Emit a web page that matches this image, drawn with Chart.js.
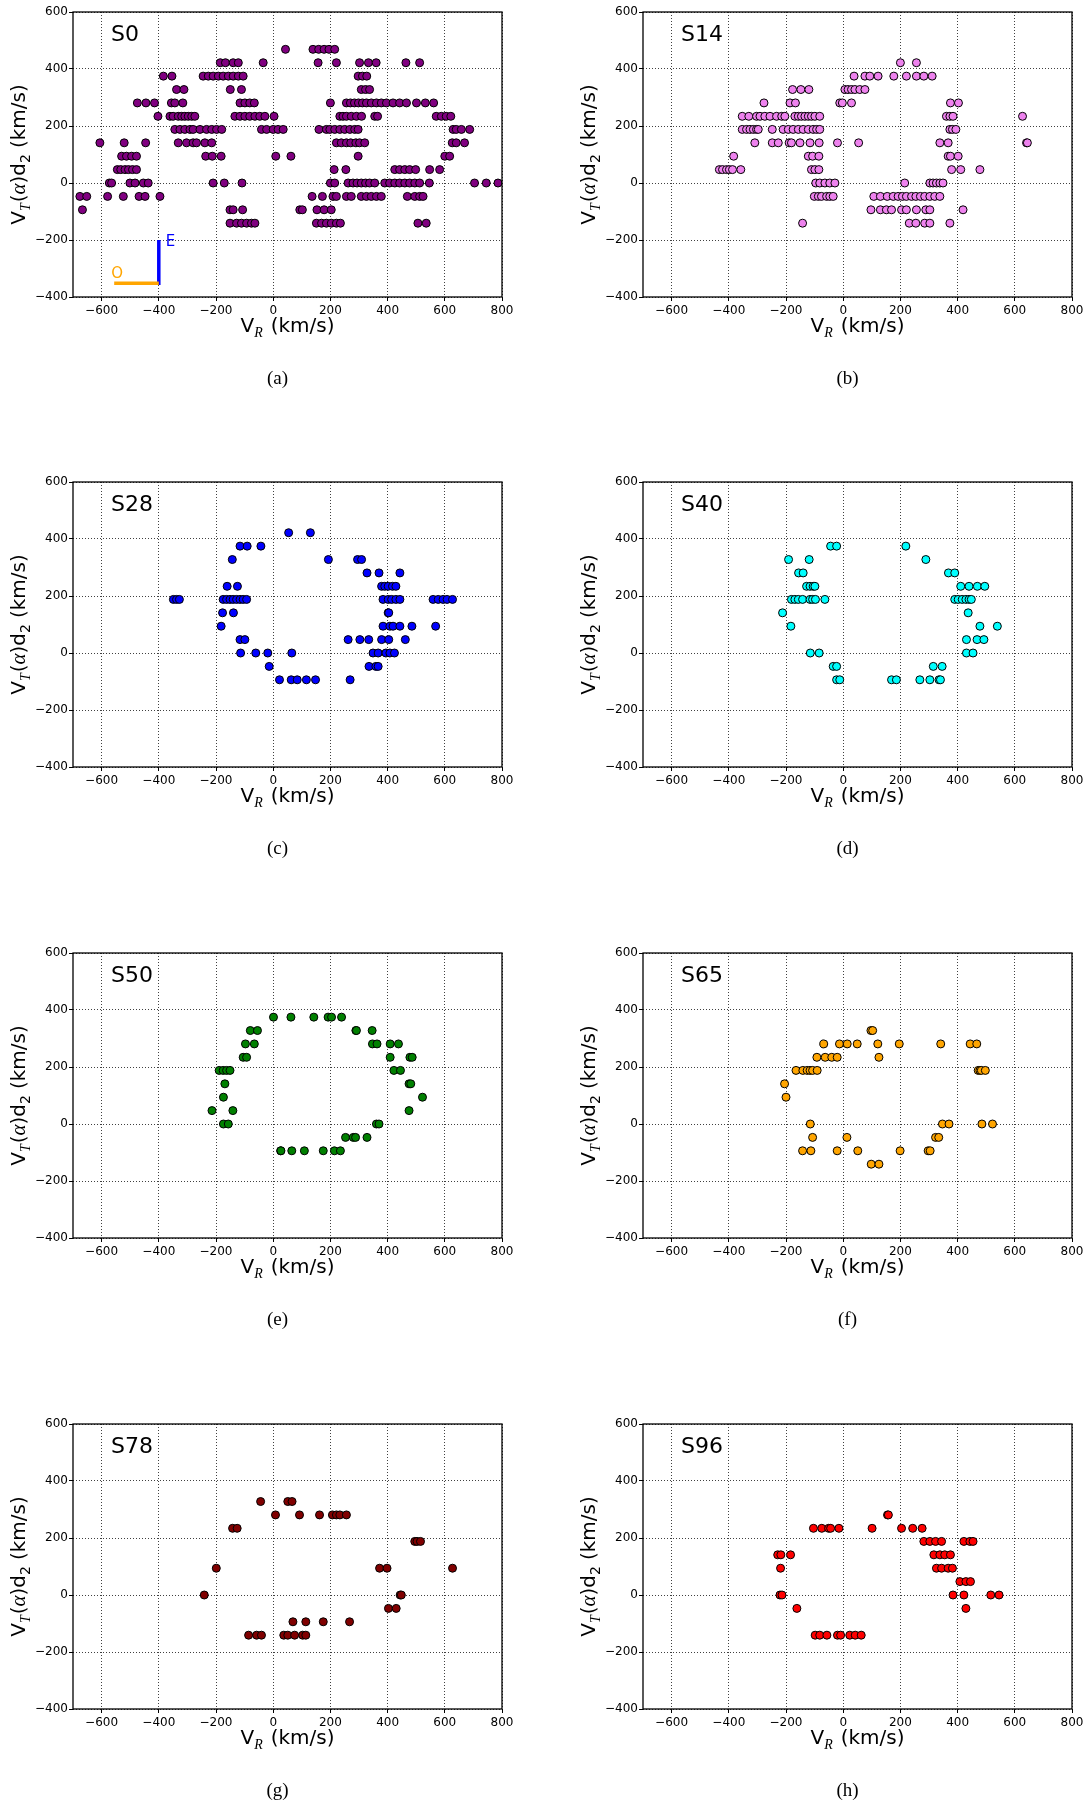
<!DOCTYPE html>
<html>
<head>
<meta charset="UTF-8">
<title>VR - VT scatter panels</title>
<script src="https://cdn.jsdelivr.net/npm/chart.js"></script>
<style>
  html, body { margin: 0; padding: 0; background: #fff; }
  #fig { position: relative; width: 1092px; height: 1802px; overflow: hidden; }
  #fig canvas { position: absolute; }
</style>
</head>
<body>
<div id="fig"></div>
<script>
// tick values of every panel
const xTicks = [-600, -400, -200, 0, 200, 400, 600, 800];
const yTicks = [-400, -200, 0, 200, 400, 600];

// S0 annotation lines (E and O directions)
const eLine = [[-400, -200], [-400, -358]];
const oLine = [[-556, -352], [-400, -352]];

// [VR, VT(alpha)d2]
const s0 = [
  [43,469],[139,469],[159,469],[178,469],[195,469],[215,469],
  [-185,422],[-167,422],[-140,422],[-122,422],[-35,422],[157,422],[221,422],[302,422],[333,422],[360,422],[464,422],[512,422],
  [-384,375],[-354,375],[-245,375],[-227,375],[-210,375],[-192,375],[-175,375],[-157,375],[-140,375],[-122,375],[-105,375],[297,375],[312,375],[327,375],
  [-338,328],[-312,328],[-150,328],[-111,328],[308,328],[323,328],[337,328],
  [-475,281],[-445,281],[-415,281],[-356,281],[-344,281],[-316,281],[-116,281],[-99,281],[-82,281],[-66,281],[200,281],[256,281],[270,281],[284,281],[298,281],[312,281],[326,281],[343,281],[361,281],[378,281],[396,281],[419,281],[442,281],[466,281],[501,281],[532,281],[561,281],
  [-403,234],[-361,234],[-350,234],[-332,234],[-320,234],[-309,234],[-297,234],[-285,234],[-274,234],[-134,234],[-116,234],[-99,234],[-82,234],[-64,234],[-47,234],[-29,234],[3,234],[233,234],[244,234],[256,234],[273,234],[291,234],[309,234],[355,234],[365,234],[570,234],[588,234],[605,234],[621,234],
  [-344,188],[-326,188],[-309,188],[-291,188],[-280,188],[-256,188],[-233,188],[-215,188],[-198,188],[-180,188],[-41,188],[-23,188],[0,188],[17,188],[35,188],[160,188],[186,188],[198,188],[215,188],[233,188],[250,188],[268,188],[285,188],[297,188],[629,188],[640,188],[658,188],[687,188],
  [-606,141],[-521,141],[-446,141],[-332,141],[-303,141],[-280,141],[-268,141],[-239,141],[-215,141],[221,141],[238,141],[256,141],[271,141],[289,141],[302,141],[320,141],[626,141],[640,141],[669,141],
  [-530,94],[-513,94],[-495,94],[-478,94],[-236,94],[-213,94],[-182,94],[9,94],[62,94],[297,94],[600,94],[617,94],
  [-545,47],[-533,47],[-518,47],[-506,47],[-492,47],[-478,47],[213,47],[254,47],[425,47],[442,47],[460,47],[477,47],[498,47],[547,47],[582,47],
  [-573,0],[-565,0],[-501,0],[-483,0],[-454,0],[-437,0],[-210,0],[-171,0],[-109,0],[200,0],[215,0],[262,0],[279,0],[293,0],[308,0],[323,0],[337,0],[355,0],[390,0],[407,0],[425,0],[442,0],[460,0],[477,0],[495,0],[512,0],[546,0],[704,0],[745,0],[786,0],
  [-676,-47],[-652,-47],[-579,-47],[-524,-47],[-469,-47],[-448,-47],[-396,-47],[136,-47],[172,-47],[209,-47],[221,-47],[256,-47],[273,-47],[308,-47],[326,-47],[343,-47],[361,-47],[378,-47],[469,-47],[495,-47],[512,-47],[524,-47],
  [-667,-94],[-151,-94],[-140,-94],[-107,-94],[93,-94],[102,-94],[153,-94],[178,-94],[203,-94],
  [-151,-141],[-128,-141],[-111,-141],[-93,-141],[-76,-141],[-64,-141],[151,-141],[169,-141],[186,-141],[203,-141],[221,-141],[235,-141],[506,-141],[535,-141]
];
const s14 = [
  [200,422],[256,422],
  [38,375],[76,375],[93,375],[122,375],[177,375],[221,375],[256,375],[282,375],[311,375],
  [-177,328],[-148,328],[-120,328],[6,328],[17,328],[29,328],[41,328],[58,328],[76,328],
  [-277,281],[-186,281],[-167,281],[-12,281],[-3,281],[29,281],[375,281],[403,281],
  [-353,234],[-330,234],[-303,234],[-291,234],[-274,234],[-256,234],[-233,234],[-215,234],[-204,234],[-169,234],[-157,234],[-146,234],[-134,234],[-122,234],[-111,234],[-99,234],[-82,234],[361,234],[373,234],[384,234],[627,234],
  [-353,188],[-338,188],[-326,188],[-314,188],[-303,188],[-297,188],[-248,188],[-210,188],[-192,188],[-175,188],[-157,188],[-140,188],[-122,188],[-105,188],[-93,188],[-82,188],[373,188],[382,188],[394,188],
  [-309,141],[-248,141],[-227,141],[-189,141],[-181,141],[-151,141],[-116,141],[-84,141],[-20,141],[54,141],[338,141],[367,141],[641,141],[644,141],
  [-383,94],[-122,94],[-107,94],[-85,94],[367,94],[375,94],[402,94],
  [-433,47],[-422,47],[-408,47],[-398,47],[-387,47],[-358,47],[-111,47],[-99,47],[-85,47],[379,47],[411,47],[478,47],
  [-96,0],[-82,0],[-64,0],[-47,0],[-29,0],[215,0],[303,0],[314,0],[326,0],[338,0],[349,0],
  [-101,-47],[-87,-47],[-76,-47],[-58,-47],[-47,-47],[-35,-47],[107,-47],[130,-47],[154,-47],[175,-47],[192,-47],[207,-47],[221,-47],[239,-47],[254,-47],[270,-47],[285,-47],[303,-47],[320,-47],[338,-47],
  [97,-94],[130,-94],[151,-94],[169,-94],[204,-94],[221,-94],[256,-94],[289,-94],[303,-94],[419,-94],
  [-142,-141],[231,-141],[254,-141],[285,-141],[303,-141],[373,-141]
];
const s28 = [
  [54,422],[130,422],
  [-116,375],[-91,375],[-43,375],
  [-143,328],[193,328],[295,328],[309,328],
  [328,281],[370,281],[443,281],
  [-161,234],[-125,234],[379,234],[390,234],[402,234],[417,234],[429,234],
  [-349,188],[-338,188],[-328,188],[-175,188],[-163,188],[-151,188],[-140,188],[-128,188],[-116,188],[-105,188],[-93,188],[384,188],[402,188],[414,188],[429,188],[443,188],[559,188],[577,188],[594,188],[608,188],[627,188],
  [-177,141],[-139,141],[402,141],[404,141],
  [-182,94],[384,94],[408,94],[419,94],[443,94],[485,94],[568,94],
  [-116,47],[-99,47],[262,47],[303,47],[334,47],[379,47],[404,47],[462,47],
  [-114,0],[-61,0],[-19,0],[65,0],[349,0],[367,0],[394,0],[408,0],[424,0],
  [-14,-47],[335,-47],[359,-47],[367,-47],
  [22,-94],[63,-94],[84,-94],[116,-94],[148,-94],[269,-94]
];
const s40 = [
  [-44,375],[-23,375],[219,375],
  [-191,328],[-119,328],[289,328],
  [-156,281],[-140,281],[368,281],[390,281],
  [-128,234],[-116,234],[-105,234],[-99,234],[411,234],[440,234],[469,234],[495,234],
  [-181,188],[-169,188],[-157,188],[-142,188],[-116,188],[-107,188],[-97,188],[-64,188],[390,188],[402,188],[416,188],[429,188],[440,188],[448,188],
  [-212,141],[437,141],
  [-183,94],[478,94],[539,94],
  [431,47],[468,47],[492,47],
  [-115,0],[-84,0],[431,0],[454,0],
  [-35,-47],[-23,-47],[315,-47],[346,-47],
  [-23,-94],[-12,-94],[169,-94],[186,-94],[268,-94],[303,-94],[335,-94],[340,-94]
];
const s50 = [
  [1,375],[62,375],[142,375],[192,375],[204,375],[239,375],
  [-80,328],[-55,328],[289,328],[291,328],[346,328],
  [-97,281],[-66,281],[347,281],[363,281],[409,281],[438,281],
  [-105,234],[-93,234],[409,234],[478,234],[486,234],
  [-189,188],[-175,188],[-163,188],[-151,188],[422,188],[445,188],
  [-169,141],[475,141],[481,141],
  [-174,94],[522,94],
  [-214,47],[-141,47],[475,47],
  [-174,0],[-157,0],[361,0],[370,0],
  [253,-47],[280,-47],[288,-47],[328,-47],
  [26,-94],[27,-94],[65,-94],[109,-94],[175,-94],[214,-94],[235,-94]
];
const s65 = [
  [97,328],[103,328],
  [-68,281],[-13,281],[14,281],[49,281],[121,281],[196,281],[341,281],[444,281],[467,281],
  [-92,234],[-63,234],[-40,234],[-21,234],[125,234],
  [-165,188],[-141,188],[-126,188],[-116,188],[-107,188],[-91,188],[472,188],[478,188],[483,188],[497,188],
  [-205,141],
  [-200,94],
  [-115,0],[347,0],[370,0],[485,0],[522,0],
  [-107,-47],[13,-47],[323,-47],[334,-47],
  [-142,-94],[-113,-94],[-21,-94],[51,-94],[199,-94],[297,-94],[304,-94],
  [98,-141],[125,-141]
];
const s78 = [
  [-44,328],[51,328],[66,328],
  [8,281],[92,281],[162,281],[207,281],[221,281],[233,281],[256,281],
  [-142,234],[-126,234],
  [495,188],[503,188],[515,188],
  [-199,94],[372,94],[398,94],[627,94],
  [-241,0],[444,0],[448,0],
  [403,-47],[430,-47],
  [69,-94],[114,-94],[175,-94],[267,-94],
  [-86,-141],[-58,-141],[-41,-141],[37,-141],[51,-141],[75,-141],[103,-141],[114,-141]
];
const s96 = [
  [155,281],[158,281],
  [-104,234],[-75,234],[-51,234],[-44,234],[-15,234],[101,234],[204,234],[243,234],[276,234],
  [282,188],[303,188],[323,188],[344,188],[422,188],[443,188],[454,188],
  [-229,141],[-218,141],[-184,141],[317,141],[338,141],[355,141],[375,141],
  [-219,94],[326,94],[344,94],[367,94],[382,94],
  [408,47],[429,47],[445,47],
  [-221,0],[-214,0],[384,0],[422,0],[516,0],[545,0],
  [-162,-47],[429,-47],
  [-98,-141],[-82,-141],[-57,-141],[-20,-141],[-9,-141],[23,-141],[42,-141],[63,-141]
];

const panels = [
  { pts: s0,  color: '#800080', label: 'S0',  caption: '(a)' },
  { pts: s14, color: '#ee82ee', label: 'S14', caption: '(b)' },
  { pts: s28, color: '#0000ff', label: 'S28', caption: '(c)' },
  { pts: s40, color: '#00ffff', label: 'S40', caption: '(d)' },
  { pts: s50, color: '#008000', label: 'S50', caption: '(e)' },
  { pts: s65, color: '#ffa500', label: 'S65', caption: '(f)' },
  { pts: s78, color: '#800000', label: 'S78', caption: '(g)' },
  { pts: s96, color: '#ff0000', label: 'S96', caption: '(h)' }
];

Chart.defaults.font.family = 'DejaVu Sans';
Chart.defaults.color = '#000';

const W = 522, H = 390;
const rowTops = [0, 470, 941, 1412];
const colLefts = [0, 570];

function drawPieces(ctx, pieces, x0, y0) {
  let w = 0;
  pieces.forEach(p => { ctx.font = p.f; p.w = ctx.measureText(p.t).width + (p.gap || 0); w += p.w; });
  let x = x0 - w / 2;
  pieces.forEach(p => {
    ctx.font = p.f;
    ctx.fillText(p.t, x, y0 + (p.dy || 0));
    x += p.w;
  });
}

const frameText = {
  id: 'frameText',
  afterDraw(chart, args, opts) {
    const ctx = chart.ctx, a = chart.chartArea;
    ctx.save();
    ctx.strokeStyle = '#000';
    ctx.lineWidth = 1.3;
    ctx.strokeRect(a.left, a.top, a.right - a.left, a.bottom - a.top);
    ctx.fillStyle = '#000';
    ctx.textBaseline = 'alphabetic';
    ctx.textAlign = 'left';
    ctx.font = '22px DejaVu Sans';
    ctx.fillText(opts.label, a.left + 38, a.top + 29);
    const cx = (a.left + a.right) / 2;
    // x axis title
    drawPieces(ctx, [
      { t: 'V', f: '20px DejaVu Sans' },
      { t: 'R', f: 'italic 14px Liberation Serif', dy: 5, gap: 8 },
      { t: '(km/s)', f: '20px DejaVu Sans' }
    ], cx, a.bottom + 35);
    // y axis title
    ctx.save();
    ctx.translate(a.left - 48, (a.top + a.bottom) / 2);
    ctx.rotate(-Math.PI / 2);
    drawPieces(ctx, [
      { t: 'V', f: '20px DejaVu Sans' },
      { t: 'T', f: 'italic 14px Liberation Serif', dy: 5, gap: 1 },
      { t: '(', f: '20px DejaVu Sans' },
      { t: 'α', f: 'italic 21px Liberation Serif' },
      { t: ')d', f: '20px DejaVu Sans' },
      { t: '2', f: '14px DejaVu Sans', dy: 5, gap: 6 },
      { t: '(km/s)', f: '20px DejaVu Sans' }
    ], 0, 0);
    ctx.restore();
    // caption
    ctx.textAlign = 'center';
    ctx.font = '19px Liberation Serif';
    ctx.fillText(opts.caption, cx - 10, 384);
    // E / O labels of the first panel
    if (opts.arrows) {
      const xs = chart.scales.x, ys = chart.scales.y;
      ctx.textAlign = 'left';
      ctx.font = '15px DejaVu Sans';
      ctx.fillStyle = '#0000ff';
      ctx.fillText('E', xs.getPixelForValue(eLine[0][0]) + 7, ys.getPixelForValue(eLine[0][1]) + 6);
      ctx.fillStyle = '#ffa500';
      ctx.fillText('O', xs.getPixelForValue(oLine[0][0]) - 3, ys.getPixelForValue(oLine[0][1]) - 5);
    }
    ctx.restore();
  }
};

const fmt = v => String(v).replace('-', '\u2212');

panels.forEach((p, i) => {
  const cv = document.createElement('canvas');
  cv.width = W; cv.height = H;
  cv.style.left = colLefts[i % 2] + 'px';
  cv.style.top = rowTops[Math.floor(i / 2)] + 'px';
  cv.style.width = W + 'px'; cv.style.height = H + 'px';
  document.getElementById('fig').appendChild(cv);

  const datasets = [{
    data: p.pts.map(([x, y]) => ({ x, y })),
    backgroundColor: p.color,
    borderColor: '#000',
    borderWidth: 1,
    pointRadius: 4,
    pointHoverRadius: 4
  }];
  if (i === 0) {
    [[oLine, '#ffa500'], [eLine, '#0000ff']].forEach(([ln, c]) => {
      datasets.push({
        data: ln.map(([x, y]) => ({ x, y })),
        showLine: true, borderColor: c, borderWidth: 3.5,
        pointRadius: 0, borderCapStyle: 'butt'
      });
    });
  }

  const gridOpts = { color: 'rgba(0,0,0,0.75)', lineWidth: 1, drawTicks: true, tickLength: 4,
                     tickColor: '#000', tickBorderDash: [], tickWidth: 1 };

  new Chart(cv, {
    type: 'scatter',
    data: { datasets },
    options: {
      responsive: false,
      animation: false,
      devicePixelRatio: 1,
      layout: { padding: { top: 12, right: 20, left: 0, bottom: 0 } },
      plugins: {
        legend: { display: false },
        tooltip: { enabled: false },
        frameText: { label: p.label, caption: p.caption, arrows: i === 0 }
      },
      scales: {
        x: {
          type: 'linear', min: -700, max: 800,
          afterBuildTicks: s => { s.ticks = xTicks.map(v => ({ value: v })); },
          afterFit: s => { s.height = H - 12 - 285; },
          ticks: { font: { size: 12 }, color: '#000', padding: 3, maxRotation: 0, callback: fmt },
          grid: gridOpts,
          border: { display: false, dash: [1, 2] }
        },
        y: {
          type: 'linear', min: -400, max: 600,
          afterBuildTicks: s => { s.ticks = yTicks.map(v => ({ value: v })); },
          afterFit: s => { s.width = 73; },
          ticks: { font: { size: 12 }, color: '#000', padding: 1, callback: fmt },
          grid: gridOpts,
          border: { display: false, dash: [1, 2] }
        }
      }
    },
    plugins: [frameText]
  });
});
</script>
</body>
</html>
